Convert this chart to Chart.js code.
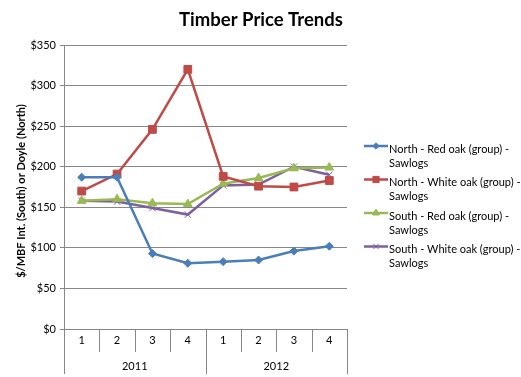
<!DOCTYPE html>
<html>
<head>
<meta charset="utf-8">
<script src="https://cdn.jsdelivr.net/npm/chart.js@4.4.1/dist/chart.umd.min.js"></script>
<style>
  html, body { margin: 0; padding: 0; background: #fff; }
  #wrap { width: 521px; height: 377px; position: relative; }
</style>
</head>
<body>
<div id="wrap"><canvas id="chart"></canvas></div>
<script>
// Dados do grafico
const quarters = ['1', '2', '3', '4', '1', '2', '3', '4'];
const years = ['2011', '2012'];
const yMax = 350;
const yStep = 50;

const northRed = [187, 187, 93, 81, 83, 85, 96, 102];
const northWhite = [170, 191, 246, 320, 188, 176, 175, 183];
const southRed = [158, 160, 155, 154, 179, 186, 198, 199];
const southWhite = [158, 157, 149, 141, 177, 178, 200, 190];

const seriesNames = [
  ['North - Red oak (group) -', 'Sawlogs'],
  ['North - White oak (group) -', 'Sawlogs'],
  ['South - Red oak (group) -', 'Sawlogs'],
  ['South - White oak (group) -', 'Sawlogs']
];

const FONT = 'Lato, "Open Sans", sans-serif';
const gridColor = '#878787';

// Eixo X em dois niveis (trimestre / ano) + titulo + legenda
const customDraw = {
  id: 'customDraw',
  afterDraw(chart) {
    const ctx = chart.ctx;
    const x = chart.scales.x;
    const area = chart.chartArea;
    const bottom = area.bottom;
    ctx.save();

    // separadores
    ctx.strokeStyle = gridColor;
    ctx.lineWidth = 1;
    const perYear = quarters.length / years.length;
    for (let i = 0; i <= quarters.length; i++) {
      let px;
      if (i === 0) px = area.left;
      else if (i === quarters.length) px = area.right;
      else px = (x.getPixelForValue(i - 1) + x.getPixelForValue(i)) / 2;
      px = Math.round(px) + 0.5;
      const len = (i % perYear === 0) ? 45 : 23;
      ctx.beginPath();
      ctx.moveTo(px, bottom);
      ctx.lineTo(px, bottom + len);
      ctx.stroke();
    }

    // rotulos
    ctx.fillStyle = '#000';
    ctx.font = '11px ' + FONT;
    ctx.textAlign = 'center';
    ctx.textBaseline = 'middle';
    quarters.forEach((q, i) => {
      ctx.fillText(q, x.getPixelForValue(i), bottom + 11);
    });
    years.forEach((yr, j) => {
      const a = x.getPixelForValue(j * perYear);
      const b = x.getPixelForValue((j + 1) * perYear - 1);
      ctx.fillText(yr, (a + b) / 2, bottom + 37);
    });

    // titulo
    ctx.font = 'bold 18.5px ' + FONT;
    ctx.fillText('Timber Price Trends', 261, 20);

    // titulo do eixo Y
    ctx.save();
    ctx.translate(21, 191);
    ctx.rotate(-Math.PI / 2);
    ctx.font = 'bold 11px ' + FONT;
    ctx.fillText('$/MBF Int. (South) or Doyle (North)', 0, 0);
    ctx.restore();

    // legenda
    ctx.textAlign = 'left';
    ctx.font = '11px ' + FONT;
    chart.data.datasets.forEach((ds, i) => {
      const ly = 146 + i * 33.5;
      ctx.strokeStyle = ds.borderColor;
      ctx.fillStyle = ds.backgroundColor;
      ctx.lineWidth = 2.5;
      ctx.beginPath();
      ctx.moveTo(364, ly);
      ctx.lineTo(388, ly);
      ctx.stroke();
      ctx.lineWidth = 1;
      Chart.helpers.drawPoint(ctx, {
        pointStyle: ds.pointStyle,
        radius: ds.pointRadius * 0.8,
        borderWidth: 1
      }, 376, ly);
      ctx.fillStyle = '#000';
      seriesNames[i].forEach((t, k) => {
        ctx.fillText(t, 389, ly + 3 + k * 14);
      });
    });
    ctx.restore();
  }
};

function serie(label, data, color, style, radius) {
  return {
    label: label,
    data: data,
    borderColor: color,
    backgroundColor: color,
    pointBackgroundColor: color,
    pointBorderColor: color,
    borderWidth: 2.5,
    pointStyle: style,
    pointRadius: radius,
    pointBorderWidth: 1,
    tension: 0
  };
}

new Chart(document.getElementById('chart').getContext('2d'), {
  type: 'line',
  data: {
    labels: quarters,
    datasets: [
      serie(seriesNames[0].join(' '), northRed, '#4A7EBB', 'rectRot', 4),
      serie(seriesNames[1].join(' '), northWhite, '#BE4B48', 'rect', 5.5),
      serie(seriesNames[2].join(' '), southRed, '#98B954', 'triangle', 5),
      serie(seriesNames[3].join(' '), southWhite, '#7D60A0', 'crossRot', 4.5)
    ]
  },
  options: {
    responsive: true,
    maintainAspectRatio: false,
    animation: false,
    layout: { padding: { left: 0, right: 174, top: 45, bottom: 0 } },
    plugins: { legend: { display: false }, tooltip: { enabled: false } },
    scales: {
      x: {
        offset: true,
        grid: { display: false, drawTicks: false },
        border: { display: false },
        ticks: { display: false },
        afterFit(scale) { scale.height = 48; }
      },
      y: {
        min: 0,
        max: yMax,
        ticks: {
          stepSize: yStep,
          color: '#000',
          font: { family: FONT, size: 11 },
          padding: 4,
          callback: v => '$' + v
        },
        grid: { color: gridColor, tickLength: 4, lineWidth: 1 },
        border: { color: gridColor },
        afterFit(scale) { scale.width = 64; }
      }
    }
  },
  plugins: [customDraw]
});
</script>
</body>
</html>
